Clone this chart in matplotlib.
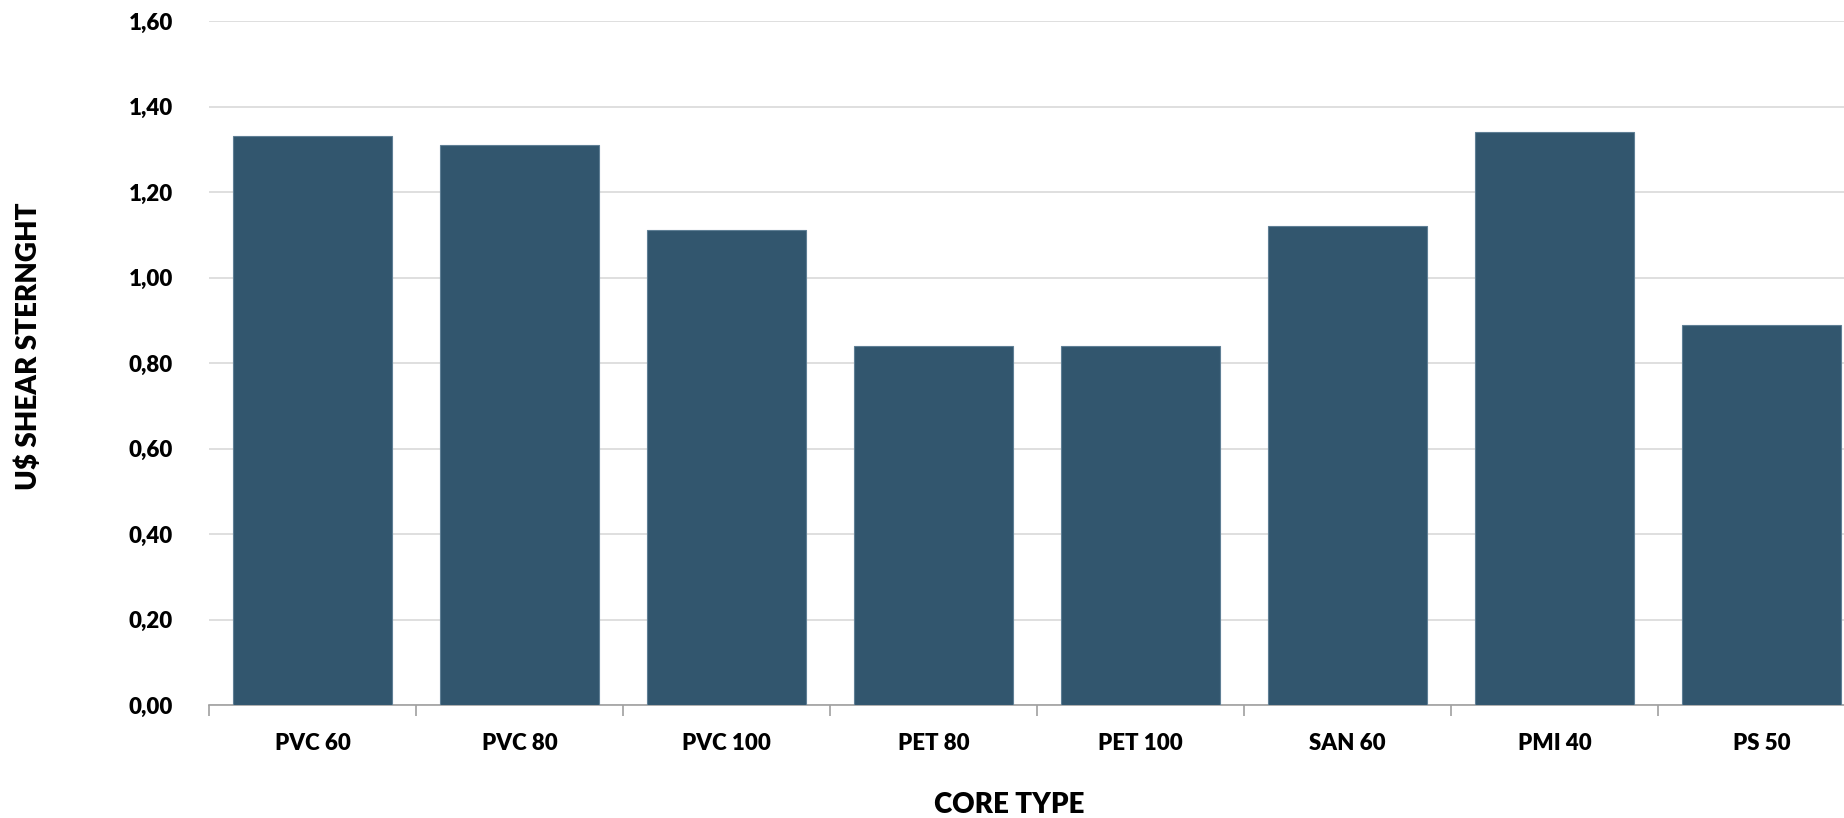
import matplotlib
matplotlib.use("Agg")
import matplotlib.pyplot as plt
from matplotlib.ticker import FixedLocator, FuncFormatter

# ---------- Data ----------
core_types = ["PVC 60", "PVC 80", "PVC 100", "PET 80", "PET 100", "SAN 60", "PMI 40", "PS 50"]
shear_strength = [1.33, 1.31, 1.11, 0.84, 0.84, 1.12, 1.34, 0.89]
y_ticks = [0.0, 0.2, 0.4, 0.6, 0.8, 1.0, 1.2, 1.4, 1.6]

plt.rcParams["font.family"] = ["Lato", "DejaVu Sans"]
plt.rcParams["font.weight"] = "heavy"

W, H = 1844, 818
fig = plt.figure(figsize=(W / 100, H / 100), dpi=100)
# axes runs slightly past the right edge (chart is cropped in the original)
ax = fig.add_axes([209 / W, 1 - 705 / H, (1865 - 209) / W, (705 - 21) / H])

x = range(len(core_types))
ax.bar(x, shear_strength, width=0.77, color="#32566e", edgecolor="#5f7f95",
       linewidth=0.8, zorder=3)

ax.set_xlim(-0.5, len(core_types) - 0.5)
ax.set_ylim(0, 1.6)
ax.set_yticks(y_ticks)
ax.yaxis.set_major_formatter(FuncFormatter(lambda v, p: f"{v:.2f}".replace(".", ",")))
ax.grid(axis="y", color="#d9d9d9", linewidth=1.2, zorder=0)

ax.set_xticks(list(x))
ax.set_xticklabels(core_types)
ax.xaxis.set_minor_locator(FixedLocator([i - 0.5 for i in range(len(core_types) + 1)]))
ax.tick_params(axis="x", which="major", length=0, pad=20, labelsize=16)
ax.tick_params(axis="x", which="minor", length=8, color="#a0a0a0", width=1.2)
ax.tick_params(axis="y", length=0, pad=26, labelsize=16)

for side in ["top", "right", "left"]:
    ax.spines[side].set_visible(False)
ax.spines["bottom"].set_color("#a0a0a0")
ax.spines["bottom"].set_linewidth(1.2)

fig.text(1009 / W, 1 - 805 / H, "CORE TYPE", ha="center", va="center",
         fontsize=20, fontweight="heavy")
fig.text(29 / W, 1 - 346 / H, "U$ SHEAR STERNGHT", ha="center", va="center",
         rotation=90, fontsize=20, fontweight="heavy")

fig.savefig("out.png", dpi=100)
